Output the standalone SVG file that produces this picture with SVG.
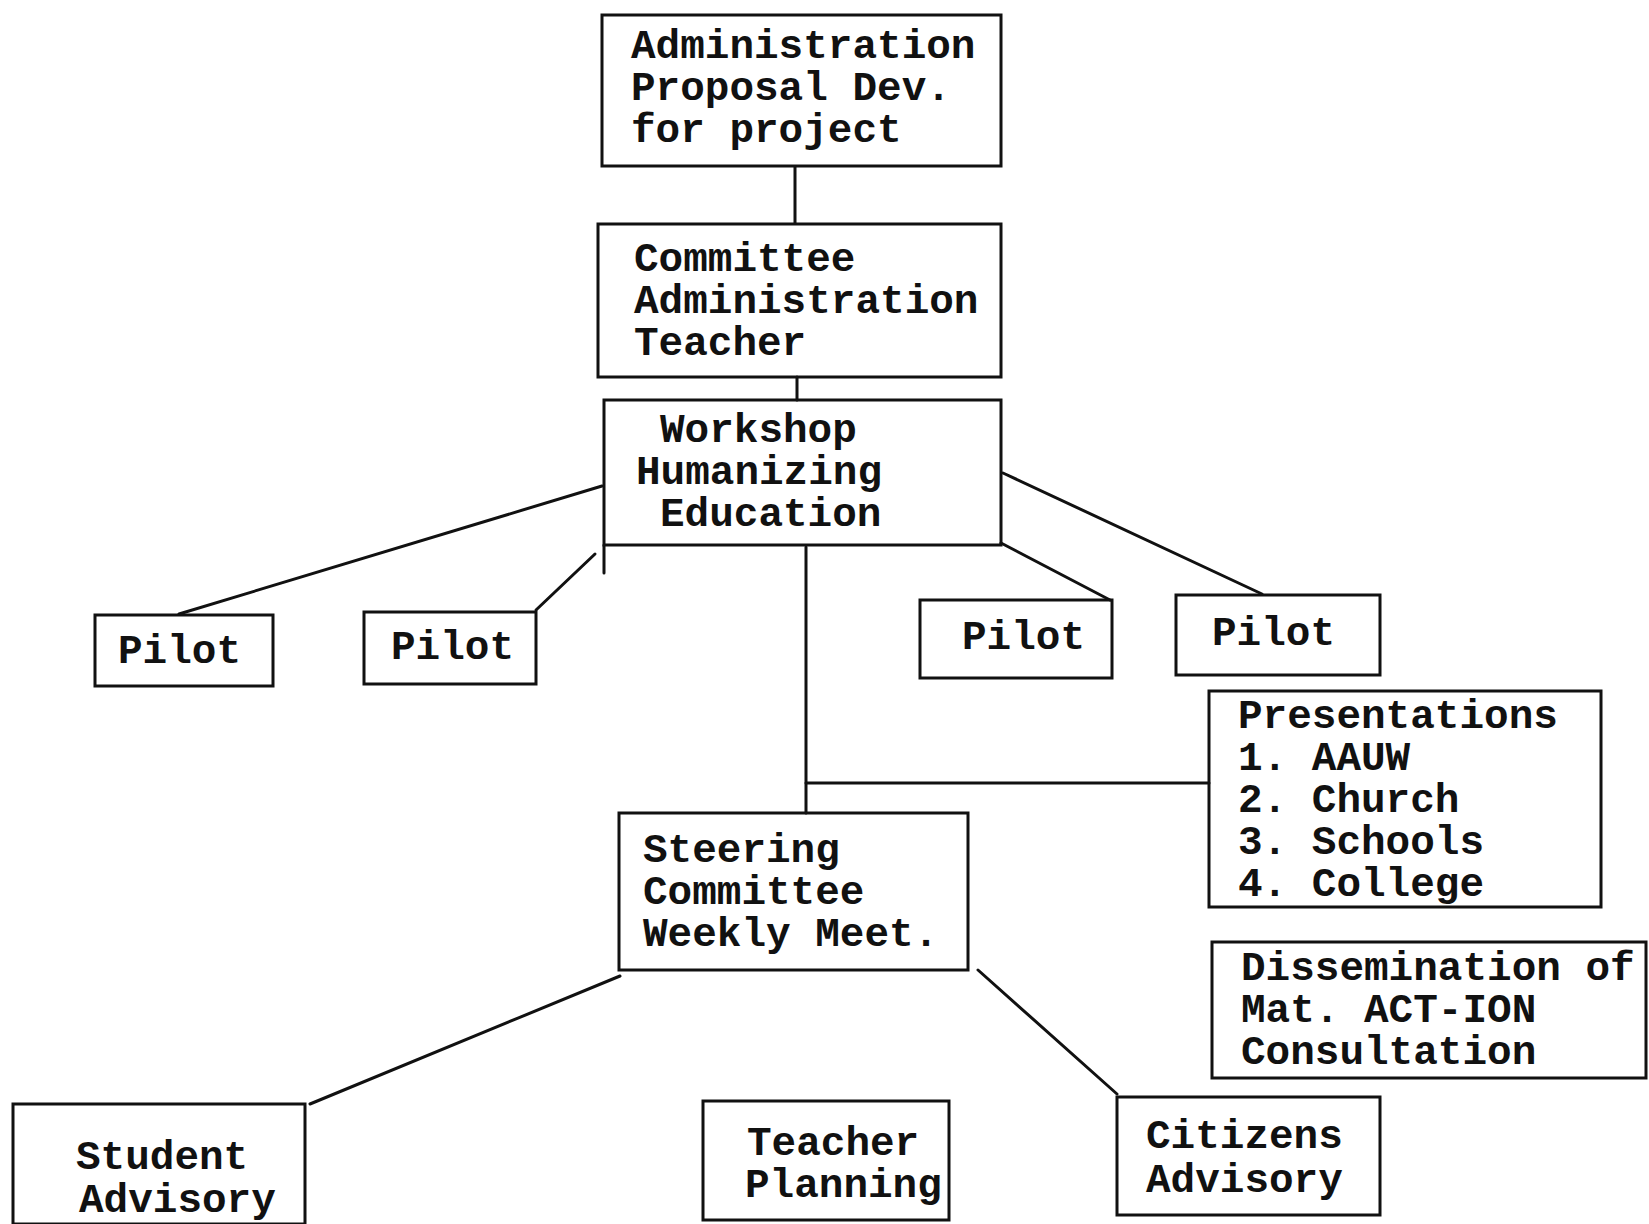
<svg xmlns="http://www.w3.org/2000/svg" width="1649" height="1224" viewBox="0 0 1649 1224">
<style>
.box{fill:none;stroke:#111;stroke-width:3}
.con{fill:none;stroke:#111;stroke-width:3;stroke-linecap:round}
text{font-family:"Liberation Mono","DejaVu Sans Mono",monospace;font-size:41px;font-weight:bold;fill:#111}
</style>
<rect width="1649" height="1224" fill="#fff"/>
<g id="connectors">
<line class="con" x1="795" y1="167" x2="795" y2="223"/>
<line class="con" x1="797" y1="377" x2="797" y2="400"/>
<line class="con" x1="604" y1="545" x2="604" y2="573"/>
<line class="con" x1="602" y1="486" x2="179" y2="614"/>
<line class="con" x1="595" y1="554" x2="536" y2="610"/>
<line class="con" x1="1003" y1="473" x2="1262" y2="594"/>
<line class="con" x1="1001" y1="543" x2="1110" y2="600"/>
<line class="con" x1="806" y1="547" x2="806" y2="813"/>
<line class="con" x1="806" y1="783" x2="1209" y2="783"/>
<line class="con" x1="620" y1="976" x2="310" y2="1104"/>
<line class="con" x1="978" y1="970" x2="1117" y2="1094"/>
</g>
<g id="admin">
<rect class="box" x="602" y="15" width="399" height="151"/>
<text x="631" y="58">Administration</text>
<text x="631" y="100">Proposal Dev.</text>
<text x="631" y="142">for project</text>
</g>
<g id="committee">
<rect class="box" x="598" y="224" width="403" height="153"/>
<text x="634" y="271">Committee</text>
<text x="634" y="313">Administration</text>
<text x="634" y="355">Teacher</text>
</g>
<g id="workshop">
<rect class="box" x="604" y="400" width="397" height="145"/>
<text x="660" y="442">Workshop</text>
<text x="636" y="484">Humanizing</text>
<text x="660" y="526">Education</text>
</g>
<g id="pilot1">
<rect class="box" x="95" y="615" width="178" height="71"/>
<text x="118" y="663">Pilot</text>
</g>
<g id="pilot2">
<rect class="box" x="364" y="612" width="172" height="72"/>
<text x="391" y="659">Pilot</text>
</g>
<g id="pilot3">
<rect class="box" x="920" y="600" width="192" height="78"/>
<text x="962" y="649">Pilot</text>
</g>
<g id="pilot4">
<rect class="box" x="1176" y="595" width="204" height="80"/>
<text x="1212" y="645">Pilot</text>
</g>
<g id="presentations">
<rect class="box" x="1209" y="691" width="392" height="216"/>
<text x="1238" y="728">Presentations</text>
<text x="1238" y="770">1. AAUW</text>
<text x="1238" y="812">2. Church</text>
<text x="1238" y="854">3. Schools</text>
<text x="1238" y="896">4. College</text>
</g>
<g id="steering">
<rect class="box" x="619" y="813" width="349" height="157"/>
<text x="643" y="862">Steering</text>
<text x="643" y="904">Committee</text>
<text x="643" y="946">Weekly Meet.</text>
</g>
<g id="dissemination">
<rect class="box" x="1212" y="942" width="434" height="136"/>
<text x="1241" y="980">Dissemination of</text>
<text x="1241" y="1022">Mat. ACT-ION</text>
<text x="1241" y="1064">Consultation</text>
</g>
<g id="student">
<rect class="box" x="13" y="1104" width="292" height="120"/>
<text x="76" y="1169">Student</text>
<text x="79" y="1212">Advisory</text>
</g>
<g id="teacher">
<rect class="box" x="703" y="1101" width="246" height="119"/>
<text x="747" y="1155">Teacher</text>
<text x="745" y="1197">Planning</text>
</g>
<g id="citizens">
<rect class="box" x="1117" y="1097" width="263" height="118"/>
<text x="1146" y="1148">Citizens</text>
<text x="1146" y="1192">Advisory</text>
</g>
</svg>
